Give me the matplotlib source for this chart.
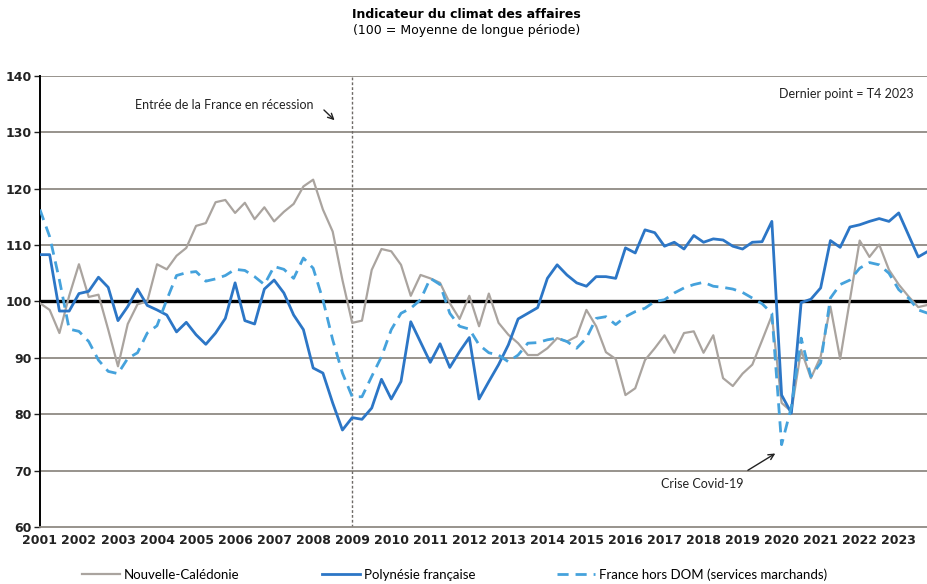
import matplotlib
matplotlib.use("Agg")
import matplotlib.pyplot as plt

# Quarterly data, 2001 T1 -> 2023 T4
years = list(range(2001, 2024))

nouvelle_caledonie = [
    99.7, 98.5, 94.4, 101.0, 106.6, 100.8, 101.2, 95.0,
    88.5, 96.0, 99.5, 100.0, 106.6, 105.7, 108.1, 109.5,
    113.4, 113.9, 117.6, 118.0, 115.7, 117.5, 114.6, 116.7,
    114.2, 115.9, 117.3, 120.4, 121.6, 116.3, 112.4, 103.8,
    96.2, 96.6, 105.6, 109.3, 108.9, 106.5, 101.0, 104.7,
    104.1, 103.3, 99.7, 96.9, 101.0, 95.6, 101.4, 96.2,
    94.1, 92.6, 90.5, 90.5, 91.7, 93.5, 92.9, 93.8,
    98.5, 95.6, 91.0, 89.8, 83.4, 84.6, 89.6, 91.7,
    94.0, 90.9, 94.4, 94.7, 90.9, 94.0, 86.4, 85.0,
    87.2, 88.8, 93.1, 97.5, 82.0, 80.5, 91.4, 86.4,
    90.2, 99.1, 89.8, 100.3, 110.8, 107.9, 110.1, 105.6,
    103.0, 100.9, 99.0, 99.4,
]

polynesie = [
    108.3, 108.3, 98.3, 98.3, 101.4, 101.8, 104.3, 102.5,
    96.6, 99.1, 102.2, 99.3, 98.5, 97.6, 94.6, 96.3,
    94.1, 92.4, 94.4, 97.0, 103.3, 96.6, 96.0, 102.2,
    103.8, 101.5, 97.6, 95.0, 88.2, 87.3, 82.0, 77.2,
    79.4, 79.1, 81.1, 86.2, 82.7, 85.8, 96.4, 92.8,
    89.2, 92.5, 88.3, 91.1, 93.6, 82.7, 85.8, 88.8,
    92.3, 96.9, 97.9, 98.9, 104.1, 106.5, 104.7, 103.3,
    102.7, 104.4, 104.4, 104.1, 109.5, 108.6, 112.7, 112.2,
    109.8, 110.5, 109.3, 111.7, 110.5, 111.1, 110.9, 109.8,
    109.3, 110.5, 110.6, 114.2, 83.4, 80.2, 99.8, 100.4,
    102.4, 110.8, 109.6, 113.2, 113.6, 114.2, 114.7, 114.2,
    115.7, 111.8, 107.9, 108.9,
]

france_hors_dom = [
    116.3, 111.5, 103.8, 95.1, 94.7, 92.9, 89.6, 87.6,
    87.2, 89.9, 90.9, 94.4, 95.7, 100.3, 104.6, 105.1,
    105.3, 103.6, 104.0, 104.6, 105.7, 105.5, 104.4, 103.0,
    106.2, 105.7, 104.1, 107.7, 105.9, 100.3, 93.2, 87.3,
    83.1, 83.1, 86.7, 90.2, 95.0, 97.9, 98.8, 100.3,
    104.1, 103.0, 97.9, 95.6, 95.1, 92.3, 90.9, 90.5,
    89.3, 90.5, 92.6, 92.7, 93.2, 93.5, 92.9, 91.7,
    93.5, 97.0, 97.3, 95.9, 97.3, 98.2, 98.8, 100.0,
    100.3, 101.5, 102.4, 103.0, 103.4, 102.7, 102.5, 102.2,
    101.6, 100.6, 99.6, 97.9, 74.6, 81.3, 93.5, 86.7,
    89.1, 100.6, 103.0, 103.8, 105.9, 106.9, 106.5, 105.0,
    102.1, 100.6, 98.5, 97.9,
]

x = list(range(len(polynesie)))

fig = plt.figure(figsize=(9.28, 5.84), dpi=100)
ax = fig.add_axes([0.043, 0.0976, 0.957, 0.7724])

# horizontal grid, 100 line in black
for v in range(70, 141, 10):
    if v != 100:
        ax.axhline(v, color='#8f8a84', linewidth=1.3, zorder=1)
ax.axhline(100, color='black', linewidth=2.4, zorder=2)

# recession marker (2009 T1)
ax.axvline(32, color='#6e6a66', linewidth=1, linestyle=(0, (2, 1.5)), zorder=1)

ax.plot(x, nouvelle_caledonie, color='#aaa49f', linewidth=1.6, label='Nouvelle-Calédonie', zorder=3)
ax.plot(x, polynesie, color='#2c76c6', linewidth=2.0, label='Polynésie française', zorder=4)
ax.plot(x, france_hors_dom, color='#45a2dc', linewidth=2.0, linestyle=(0, (4, 2.5)),
        label='France hors DOM (services marchands)', zorder=5)

ax.set_xlim(0, len(x) - 1)
ax.set_ylim(60, 140)
ax.set_yticks(range(60, 141, 10))
ax.set_xticks(range(0, len(x), 4))
ax.set_xticklabels([str(y) for y in years])

for s in ['top', 'right']:
    ax.spines[s].set_visible(False)
ax.spines['left'].set_color('black')
ax.spines['left'].set_linewidth(1.4)
ax.spines['bottom'].set_color('#8f8a84')
ax.spines['bottom'].set_linewidth(1.3)
ax.tick_params(axis='y', length=4, width=1, labelsize=9, pad=2, colors='#222222')
ax.tick_params(axis='x', length=0, labelsize=9, pad=5, colors='#222222')
for lab in ax.get_xticklabels() + ax.get_yticklabels():
    lab.set_fontfamily('Liberation Sans Narrow')
    lab.set_fontweight('bold')

# annotations
ax.text(28, 134.9, 'Entrée de la France en récession', ha='right', va='center',
        fontsize=9, family='Lato', color='#222222')
ax.annotate('', xy=(30.4, 131.8), xytext=(28.9, 134.3),
            arrowprops=dict(arrowstyle='->', color='#222222', lw=1))
ax.text(63.6, 67.7, 'Crise Covid-19', ha='left', va='center',
        fontsize=9, family='Lato', color='#222222')
ax.annotate('', xy=(75.6, 73.3), xytext=(72.3, 69.8),
            arrowprops=dict(arrowstyle='->', color='#222222', lw=1))
ax.text(89.5, 136.8, 'Dernier point = T4 2023', ha='right', va='center',
        fontsize=9, family='Lato', color='#222222')

fig.text(0.503, 0.976, 'Indicateur du climat des affaires', ha='center', va='center',
         fontsize=9, fontweight='bold', family='DejaVu Sans')
fig.text(0.503, 0.947, '(100 = Moyenne de longue période)', ha='center', va='center',
         fontsize=9, family='DejaVu Sans')

fig.legend(loc='center', bbox_to_anchor=(0.49, 0.016), ncol=3, frameon=False,
           prop={'family': 'Lato', 'size': 9.5}, handlelength=2.9, handletextpad=0.3,
           columnspacing=6.2)

fig.savefig('out.png', dpi=100)
